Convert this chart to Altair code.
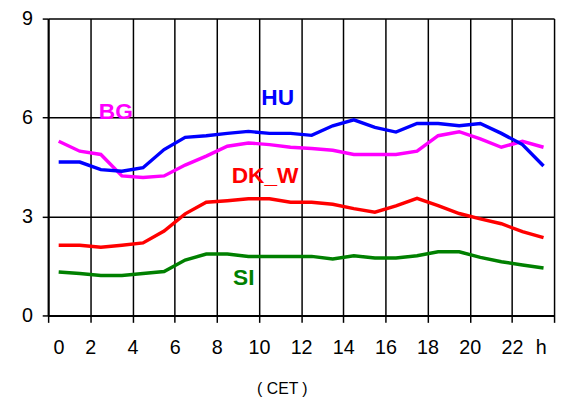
import altair as alt
import pandas as pd

hours = [h + 0.5 for h in range(24)]

HU = [4.65, 4.65, 4.42, 4.37, 4.48, 5.03, 5.40, 5.45, 5.52, 5.58, 5.52, 5.52,
      5.46, 5.75, 5.93, 5.70, 5.56, 5.82, 5.82, 5.75, 5.82, 5.52, 5.18, 4.53]
BG = [5.28, 4.98, 4.88, 4.23, 4.18, 4.23, 4.56, 4.83, 5.13, 5.23, 5.18, 5.10,
      5.06, 5.01, 4.88, 4.88, 4.88, 4.98, 5.45, 5.57, 5.35, 5.10, 5.28, 5.10]
DK_W = [2.13, 2.13, 2.07, 2.13, 2.20, 2.56, 3.08, 3.43, 3.48, 3.54, 3.54, 3.43,
        3.43, 3.37, 3.24, 3.13, 3.32, 3.55, 3.33, 3.09, 2.93, 2.78, 2.54, 2.36]
SI = [1.32, 1.27, 1.21, 1.21, 1.27, 1.33, 1.68, 1.86, 1.86, 1.79, 1.79, 1.79,
      1.79, 1.71, 1.81, 1.74, 1.74, 1.81, 1.93, 1.93, 1.76, 1.63, 1.53, 1.44]

series_names = ["SI", "DK_W", "BG", "HU"]
series_colors = ["#008000", "#FF0000", "#FF00FF", "#0000FF"]
series_values = {"HU": HU, "BG": BG, "DK_W": DK_W, "SI": SI}

# label positions (hour, value) for the series names
label_names = ["BG", "HU", "DK_W", "SI"]
label_x = [3.21, 10.89, 10.29, 9.28]
label_y = [6.17, 6.59, 4.23, 1.13]

x_tick_values = list(range(0, 25, 2))
x_tick_labels = ["0", "2", "4", "6", "8", "10", "12", "14", "16", "18", "20", "22", "h"]
y_tick_values = [0, 3, 6, 9]

rows = []
for name in series_names:
    for h, v in zip(hours, series_values[name]):
        rows.append({"hour": h, "value": v, "series": name})
df = pd.DataFrame(rows)

labels_df = pd.DataFrame({"name": label_names, "hour": label_x, "value": label_y})

FONT = "Liberation Sans"
label_js = "[" + ",".join("'" + s + "'" for s in x_tick_labels) + "][datum.value / 2]"

x_scale = alt.Scale(domain=[0, 24], nice=False, zero=False)
y_scale = alt.Scale(domain=[0, 9], nice=False)
color_scale = alt.Scale(domain=series_names, range=series_colors)

x_axis = alt.Axis(
    values=x_tick_values, labelExpr=label_js, grid=True, gridColor="black",
    gridWidth=1.5, gridOpacity=1, domainColor="black", domainWidth=2,
    tickColor="black", tickSize=7, tickWidth=1.5, labelFont=FONT,
    labelFontSize=20, labelColor="black", labelPadding=16, labelAngle=0,
    labelOffset={"condition": [{"test": "datum.value == 0", "value": 5},
                               {"test": "datum.value == 24", "value": -8}],
                 "value": 0},
    labelOverlap=False, title="( CET )", titleFont=FONT, titleFontSize=16,
    titleFontWeight="normal", titleColor="black", titleX=237, titleY=79,
    titleBaseline="alphabetic", titleAlign="center",
)
y_axis = alt.Axis(
    values=y_tick_values, grid=True, gridColor="black", gridWidth=1.5,
    gridOpacity=1, domainColor="black", domainWidth=2, tickColor="black",
    tickSize=6, tickWidth=1.5, labelFont=FONT, labelFontSize=20,
    labelColor="black", labelPadding=10, title=None,
)

lines = alt.Chart(df).mark_line(strokeWidth=3.5).encode(
    x=alt.X("hour:Q", scale=x_scale, axis=x_axis),
    y=alt.Y("value:Q", scale=y_scale, axis=y_axis),
    color=alt.Color("series:N", scale=color_scale, legend=None),
    order=alt.Order("hour:Q"),
)

texts = alt.Chart(labels_df).mark_text(
    font=FONT, fontSize=23, fontWeight="bold", baseline="middle", align="center"
).encode(
    x=alt.X("hour:Q", scale=x_scale),
    y=alt.Y("value:Q", scale=y_scale),
    text="name:N",
    color=alt.Color("name:N", scale=color_scale, legend=None),
)

chart = alt.layer(lines, texts).properties(
    width=513, height=301,
    autosize=alt.AutoSizeParams(type="none"),
    padding={"left": 40.7, "top": 8, "right": 5, "bottom": 84},
    background="white",
).configure_view(strokeWidth=0)

chart.save("out.html", embed_options={"renderer": "svg", "actions": False})
